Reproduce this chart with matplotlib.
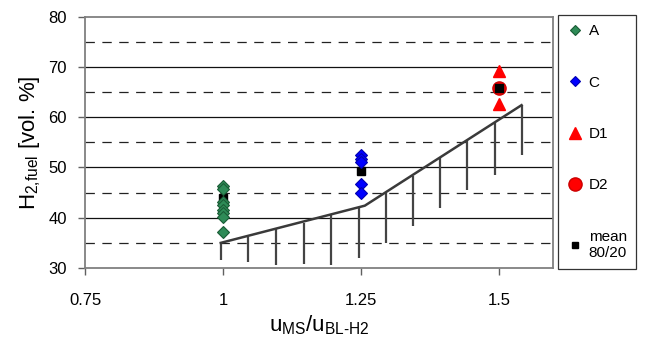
import matplotlib
matplotlib.use("Agg")
import matplotlib.pyplot as plt
from matplotlib.lines import Line2D

plt.rcParams['font.family'] = ['Liberation Sans', 'DejaVu Sans']
plt.rcParams['mathtext.fontset'] = 'custom'
plt.rcParams['mathtext.rm'] = 'Liberation Sans'
plt.rcParams['mathtext.it'] = 'Liberation Sans'

# scatter series
a_x = [1.0] * 8
a_y = [46.3, 45.7, 43.2, 42.5, 41.5, 40.9, 40.2, 37.1]
c_x = [1.25] * 5
c_y = [52.5, 51.7, 51.0, 46.8, 44.9]
d1_x = [1.5, 1.5]
d1_y = [69.2, 62.6]
d2_x = [1.5]
d2_y = [65.8]
mean_x = [1.0, 1.25, 1.5]
mean_y = [43.9, 49.3, 65.9]

# model line and its downward ranges
line_x = [0.996, 1.257, 1.541]
line_y = [35.0, 42.4, 62.4]
bar_x = [0.996, 1.046, 1.096, 1.146, 1.196, 1.246, 1.295, 1.345, 1.393, 1.443, 1.493, 1.541]
bar_top = [35.0, 36.2, 37.7, 38.9, 40.5, 42.1, 44.9, 48.4, 51.9, 55.5, 58.9, 62.4]
bar_bottom = [31.5, 31.1, 30.6, 30.7, 30.5, 31.9, 35.0, 38.4, 41.9, 45.5, 48.6, 52.5]

x_ticks = [0.75, 1.0, 1.25, 1.5]
x_labels = ['0.75', '1', '1.25', '1.5']
y_ticks = [30, 40, 50, 60, 70, 80]
y_solid = [40, 50, 60, 70]
y_dashed = [35, 45, 55, 65, 75]

fig = plt.figure(figsize=(6.48, 3.4), dpi=100)
ax = fig.add_axes([85 / 648, 72 / 340, 468 / 648, 251.3 / 340])

for y in y_solid:
    ax.axhline(y, color='#111111', lw=0.9, zorder=1)
for y in y_dashed:
    ax.axhline(y, color='#222222', lw=0.9, ls=(0, (7.5, 6)), zorder=1)

ax.vlines(bar_x, bar_bottom, bar_top, color='#444444', lw=1.6, zorder=2)
ax.plot(line_x, line_y, color='#3a3a3a', lw=1.8, zorder=2)

ax.plot(d1_x, d1_y, ls='none', marker='^', ms=8, mfc='#ff0000', mec='#ff0000', zorder=3)
ax.plot(d2_x, d2_y, ls='none', marker='o', ms=9.5, mfc='#ff0000', mec='#cc0000', zorder=3)
ax.plot(mean_x, mean_y, ls='none', marker='s', ms=5.5, mfc='black', mec='black', zorder=4)
ax.plot(a_x, a_y, ls='none', marker='D', ms=6.5, mfc='#2e8b57', mec='#1a5c36', mew=0.8, zorder=5)
ax.plot(c_x, c_y, ls='none', marker='D', ms=6.5, mfc='#0000ff', mec='#0000b0', mew=0.8, zorder=5)

ax.set_xlim(0.75, 1.598)
ax.set_ylim(30, 80)
ax.set_xticks(x_ticks)
ax.set_xticklabels(x_labels)
ax.set_yticks(y_ticks)
ax.tick_params(axis='x', direction='out', length=5, width=1, color='#606060', pad=13, labelsize=12)
ax.tick_params(axis='y', direction='out', length=5, width=1, color='#606060', pad=8, labelsize=12)
for sp in ax.spines.values():
    sp.set_color('#808080')
    sp.set_linewidth(1.3)

ax.set_ylabel(r'H$_{\mathrm{2{,}fuel}}$ [vol. %]', fontsize=16, labelpad=4)
ax.set_xlabel(r'u$_{\mathrm{MS}}$/u$_{\mathrm{BL\text{-}H2}}$', fontsize=16, labelpad=4)

handles = [
    Line2D([], [], ls='none', marker='D', ms=5, mfc='#2e8b57', mec='#1a5c36', mew=0.8),
    Line2D([], [], ls='none', marker='D', ms=5.5, mfc='#0000ff', mec='#0000b0', mew=0.8),
    Line2D([], [], ls='none', marker='^', ms=8, mfc='#ff0000', mec='#ff0000'),
    Line2D([], [], ls='none', marker='o', ms=9.5, mfc='#ff0000', mec='#cc0000'),
    Line2D([], [], ls='none', marker='s', ms=5, mfc='black', mec='black'),
]
labels = ['A', 'C', 'D1', 'D2', 'mean\n80/20']
leg = fig.legend(handles, labels, loc='upper left', bbox_to_anchor=(558 / 648, 1 - 15 / 340),
                 fontsize=11, frameon=True, fancybox=False, edgecolor='black',
                 labelspacing=2.45, handlelength=1.0, handletextpad=0.4,
                 borderpad=0.6, borderaxespad=0)
leg.get_frame().set_linewidth(0.9)

fig.savefig('out.png', dpi=100)
